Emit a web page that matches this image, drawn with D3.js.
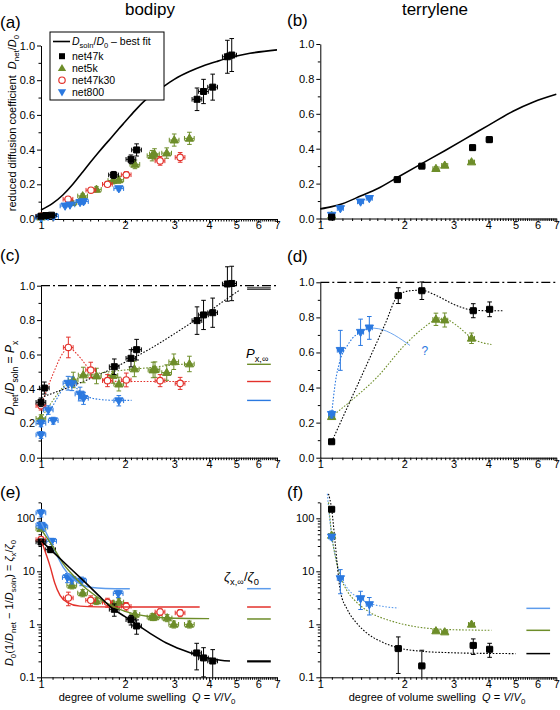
<!DOCTYPE html>
<html><head><meta charset="utf-8">
<script src="https://cdn.jsdelivr.net/npm/d3@7"></script>
<style>
body{margin:0;background:#fff}
text{font-family:"Liberation Sans",Arial,Helvetica,sans-serif;fill:#000}
</style>
</head><body>
<svg id="c" width="560" height="710"></svg>
<script>
// ================= DATA =================
const xTickVals = [1, 2, 3, 4, 5, 6, 7];
const linTickVals = [0, 0.2, 0.4, 0.6, 0.8, 1.0];
const logTickVals = [0.1, 1, 10, 100];
const titles = ["bodipy", "terrylene"];
const panelLabels = ["(a)", "(b)", "(c)", "(d)", "(e)", "(f)"];
const seriesNames = ["net47k", "net5k", "net47k30", "net800"];
const xRelErrBodipy = 0.04, xRelErrTerry = 0.025;

// ---- (a) bodipy: Dnet/D0 ----
const fitA_Q = [1.0, 1.1, 1.2, 1.3, 1.4, 1.5, 1.6, 1.7, 1.8, 1.9, 2.0, 2.2, 2.4, 2.7, 3.0, 3.4, 3.8, 4.3, 4.8, 5.6, 7.0];
const fitA_D = [0.052, 0.09, 0.14, 0.2, 0.265, 0.325, 0.38, 0.43, 0.475, 0.52, 0.56, 0.635, 0.695, 0.755, 0.805, 0.85, 0.882, 0.91, 0.932, 0.955, 0.975];
const a47k_Q = [1.0, 1.04, 1.09, 1.82, 2.1, 2.2, 3.62, 3.82, 4.12, 4.65, 4.82];
const a47k_D = [0.016, 0.02, 0.022, 0.254, 0.344, 0.398, 0.69, 0.735, 0.76, 0.935, 0.945];
const a47k_E = [0.005, 0.006, 0.006, 0.02, 0.025, 0.035, 0.065, 0.07, 0.075, 0.095, 0.095];
const a5k_Q = [1.0, 1.29, 1.41, 1.58, 1.81, 1.9, 2.17, 2.5, 2.55, 2.82, 3.0, 3.4];
const a5k_D = [0.011, 0.094, 0.133, 0.171, 0.222, 0.226, 0.315, 0.365, 0.375, 0.38, 0.455, 0.465];
const a5k_E = [0.005, 0.01, 0.012, 0.015, 0.02, 0.02, 0.025, 0.03, 0.03, 0.03, 0.035, 0.035];
const a30_Q = [1.0, 1.25, 1.51, 1.73, 2.02, 2.67, 3.15];
const a30_D = [0.015, 0.114, 0.166, 0.2, 0.255, 0.335, 0.355];
const a30_E = [0.004, 0.008, 0.01, 0.013, 0.018, 0.025, 0.028];
const a800_Q = [1.0, 1.0, 1.06, 1.11, 1.22, 1.27, 1.38, 1.42, 1.9];
const a800_D = [0.0065, 0.01, 0.016, 0.014, 0.075, 0.081, 0.096, 0.1, 0.175];
const a800_E = [0.004, 0.004, 0.005, 0.005, 0.008, 0.008, 0.01, 0.01, 0.012];

// ---- (b) terrylene: Dnet/D0 ----
const fitB_Q = [1.0, 1.1, 1.2, 1.4, 1.6, 1.9, 2.3, 2.8, 3.5, 4.0, 4.9, 5.8, 7.0];
const fitB_D = [0.055, 0.068, 0.085, 0.13, 0.17, 0.238, 0.313, 0.39, 0.48, 0.534, 0.615, 0.668, 0.712];
const b47k_Q = [1.098, 1.887, 2.31, 3.51, 4.03];
const b47k_D = [0.008, 0.223, 0.30, 0.406, 0.452];
const b47k_E = [0.004, 0.01, 0.012, 0.015, 0.017];
const b5k_Q = [1.098, 2.595, 2.79, 3.48];
const b5k_D = [0.018, 0.286, 0.305, 0.324];
const b5k_E = [0.005, 0.01, 0.01, 0.01];
const b800_Q = [1.098, 1.18, 1.394, 1.498];
const b800_D = [0.019, 0.057, 0.095, 0.115];
const b800_E = [0.005, 0.007, 0.008, 0.008];

// ---- (c) bodipy: Px = Dnet/Dsoln ----
const c47k_Q = [1.0, 1.028, 1.83, 2.1, 2.2, 3.62, 3.82, 4.12, 4.65, 4.82];
const c47k_P = [0.322, 0.405, 0.529, 0.578, 0.628, 0.797, 0.83, 0.843, 1.01, 1.013];
const c47k_E = [0.025, 0.035, 0.045, 0.05, 0.06, 0.08, 0.085, 0.085, 0.1, 0.1];
const c5k_Q = [1.0, 1.305, 1.417, 1.58, 1.81, 1.9, 2.16, 2.52, 2.56, 2.82, 2.99, 3.4];
const c5k_P = [0.229, 0.452, 0.481, 0.475, 0.478, 0.428, 0.516, 0.51, 0.512, 0.495, 0.558, 0.545];
const c5k_E = [0.02, 0.045, 0.045, 0.045, 0.045, 0.04, 0.045, 0.045, 0.045, 0.045, 0.045, 0.045];
const c30_Q = [1.0, 1.253, 1.507, 1.73, 2.02, 2.67, 3.15];
const c30_P = [0.302, 0.641, 0.51, 0.448, 0.452, 0.448, 0.432];
const c30_E = [0.025, 0.06, 0.045, 0.035, 0.04, 0.035, 0.035];
const c800_Q = [1.0, 1.0, 1.062, 1.107, 1.25, 1.29, 1.38, 1.42, 1.9];
const c800_P = [0.2, 0.132, 0.277, 0.215, 0.433, 0.43, 0.37, 0.345, 0.331];
const c800_E = [0.02, 0.02, 0.025, 0.02, 0.04, 0.04, 0.04, 0.035, 0.03];
const fitC47k_Q = [1.0, 1.5, 2.0, 2.5, 3.0, 3.5, 4.0, 4.5, 5.15];
const fitC47k_P = [0.35, 0.46, 0.555, 0.64, 0.72, 0.79, 0.85, 0.91, 0.975];
const fitC5k_Q = [1.0, 1.1, 1.2, 1.3, 1.4, 1.6, 2.0, 2.5, 3.0, 3.4];
const fitC5k_P = [0.229, 0.33, 0.41, 0.45, 0.47, 0.49, 0.51, 0.525, 0.54, 0.545];
const fitC30_Q = [1.0, 1.1, 1.2, 1.253, 1.35, 1.5, 1.65, 1.8, 2.0, 2.5, 3.4];
const fitC30_P = [0.302, 0.48, 0.61, 0.641, 0.6, 0.51, 0.46, 0.445, 0.443, 0.443, 0.443];
const fitC800_Q = [1.0, 1.1, 1.2, 1.27, 1.35, 1.45, 1.6, 1.8, 2.11];
const fitC800_P = [0.2, 0.3, 0.4, 0.43, 0.4, 0.36, 0.34, 0.334, 0.333];
const pInf_47k = [0.99, 0.98], pInf_5k = 0.543, pInf_30 = 0.443, pInf_800 = 0.333;

// ---- (d) terrylene: Px ----
const d47k_Q = [1.098, 1.902, 2.31, 3.53, 4.04];
const d47k_P = [0.091, 0.924, 0.952, 0.838, 0.846];
const d47k_E = [0.01, 0.045, 0.05, 0.04, 0.042];
const d5k_Q = [1.098, 2.595, 2.79, 3.48];
const d5k_P = [0.234, 0.789, 0.785, 0.681];
const d5k_E = [0.015, 0.035, 0.04, 0.03];
const d800_Q = [1.098, 1.18, 1.394, 1.498];
const d800_P = [0.247, 0.612, 0.715, 0.74];
const d800_E = [0.02, 0.114, 0.075, 0.065];
const fitD47k_Q = [1.098, 1.3, 1.5, 1.7, 1.9, 2.1, 2.3, 2.6, 3.0, 3.5, 4.0, 4.5];
const fitD47k_P = [0.09, 0.347, 0.565, 0.756, 0.925, 0.952, 0.955, 0.925, 0.875, 0.842, 0.838, 0.838];
const fitD5k_Q = [1.098, 1.3, 1.6, 2.0, 2.3, 2.6, 2.8, 3.1, 3.5, 4.1];
const fitD5k_P = [0.234, 0.33, 0.46, 0.64, 0.73, 0.785, 0.79, 0.75, 0.68, 0.645];
const fitD800_Q = [1.098, 1.13, 1.18, 1.25, 1.32, 1.394, 1.45, 1.498];
const fitD800_P = [0.247, 0.42, 0.56, 0.64, 0.69, 0.715, 0.73, 0.74];
const extD800_Q = [1.498, 1.62, 2.095];
const extD800_P = [0.74, 0.735, 0.64];
const qMark = {Q: 2.37, P: 0.61, text: "?"};

// ---- (e) bodipy: zeta ----
const e47k_Q = [1.0, 1.083, 1.83, 2.1, 2.2, 3.61, 3.82, 4.12];
const e47k_Z = [35.8, 25.6, 1.92, 1.22, 0.93, 0.288, 0.232, 0.203];
const e47k_E = [4, 3, 0.5, 0.25, 0.28, 0.15, 0.13, 0.13];
const e5k_Q = [1.0, 1.29, 1.41, 1.58, 1.81, 1.9, 2.17, 2.5, 2.55, 2.83, 2.99, 3.4];
const e5k_Z = [63.8, 5.45, 3.9, 2.75, 2.4, 2.64, 1.54, 1.375, 1.375, 1.32, 1.0, 1.0];
const e5k_E = [6, 0.8, 0.6, 0.4, 0.35, 0.4, 0.25, 0.2, 0.2, 0.2, 0.15, 0.15];
const e30_Q = [1.0, 1.253, 1.507, 1.73, 2.02, 2.67, 3.15];
const e30_Z = [39.6, 3.14, 2.84, 2.6, 2.18, 1.71, 1.64];
const e30_E = [4, 0.9, 0.6, 0.5, 0.4, 0.25, 0.25];
const e800_Q = [1.0, 1.0, 1.016, 1.092, 1.243, 1.29, 1.398, 1.891];
const e800_Z = [126, 73.8, 68, 36.8, 7.6, 6.96, 6.56, 3.79];
const e800_E = [20, 10, 10, 5, 1.5, 1.2, 1.2, 0.6];
const fitE47k_Q = [1.0, 1.08, 1.2, 1.4, 1.6, 1.8, 2.0, 2.2, 2.5, 2.8, 3.2, 3.6, 4.0, 4.4, 4.75];
const fitE47k_Z = [38, 26, 15.3, 7.1, 3.6, 2.0, 1.4, 1.0, 0.64, 0.45, 0.33, 0.265, 0.228, 0.21, 0.203];
const fitE5k_Q = [1.0, 1.1, 1.2, 1.3, 1.4, 1.5, 1.7, 2.0, 2.4, 3.0, 4.0];
const fitE5k_Z = [62, 30, 14, 8.5, 5.6, 4.1, 2.6, 1.75, 1.42, 1.3, 1.28];
const fitE30_Q = [1.0, 1.04, 1.08, 1.12, 1.17, 1.24, 1.38, 1.6, 2.0, 3.7];
const fitE30_Z = [40, 22, 12, 6, 3.5, 2.6, 2.2, 2.13, 2.12, 2.12];
const fitE800_Q = [1.0, 1.05, 1.1, 1.2, 1.3, 1.4, 1.5, 1.7, 2.08];
const fitE800_Z = [85, 50, 30, 12, 7.2, 5.6, 5.0, 4.75, 4.7];
const zInfE_47k = 0.2, zInfE_5k = 1.26, zInfE_30 = 2.12, zInfE_800 = 4.7;

// ---- (f) terrylene: zeta ----
const f47k_Q = [1.098, 1.902, 2.31, 3.53, 4.04];
const f47k_Z = [148, 0.348, 0.164, 0.40, 0.338];
const f47k_E = [10, 0.23, 0.16, 0.13, 0.1];
const f5k_Q = [1.098, 2.595, 2.79, 3.48];
const f5k_Z = [47.7, 0.75, 0.717, 1.0];
const f5k_E = [4, 0.04, 0.04, 0.05];
const f800_Q = [1.098, 1.18, 1.394, 1.498];
const f800_Z = [44.4, 7.27, 3.05, 2.35];
const f800_E = [5, 3.5, 1.15, 0.85];
const fitF47k_Q = [1.07, 1.098, 1.13, 1.18, 1.25, 1.35, 1.45, 1.64, 1.9, 2.3, 3.0, 4.0, 5.0];
const fitF47k_Z = [290, 150, 35, 4.2, 1.9, 1.05, 0.72, 0.48, 0.36, 0.31, 0.29, 0.282, 0.28];
const fitF5k_Q = [1.07, 1.098, 1.13, 1.18, 1.25, 1.35, 1.5, 1.8, 2.2, 2.8, 3.4, 4.1];
const fitF5k_Z = [200, 50, 20, 8, 4.2, 2.6, 1.7, 1.15, 0.9, 0.8, 0.78, 0.77];
const fitF800_Q = [1.06, 1.08, 1.1, 1.13, 1.18, 1.25, 1.35, 1.5, 1.7, 1.9];
const fitF800_Z = [290, 100, 45, 20, 8.5, 4.8, 3.3, 2.5, 2.15, 2.03];
const zInfF_47k = 0.28, zInfF_5k = 0.77, zInfF_800 = 2.0;

const legendQ = [5.47, 6.65];

// ================= DRAWING =================
const svg = d3.select("#c");
const COL = {k: "#000000", g: "#6d8d29", r: "#e3312b", b: "#2b79e0", bl: "#5d9cec"};
const FS = 11;

function rich(sel, parts, fs) {
  let shift = 0;
  parts.forEach(p => {
    const t = sel.append("tspan").text(p.t);
    const target = p.sub ? fs * 0.3 : 0;
    if (target !== shift) { t.attr("dy", target - shift); shift = target; }
    if (p.sub) t.attr("font-size", fs * 0.72);
    if (p.it) t.style("font-style", "italic");
  });
}

const xMinor = d3.range(11, 70).filter(v => v % 10 !== 0).map(v => v / 10);

function styleAxis(g) {
  g.selectAll("path.domain").attr("stroke", "#000").attr("stroke-width", 1);
  g.selectAll(".tick line").attr("stroke", "#000").attr("stroke-width", 1);
  g.selectAll(".tick text").attr("font-size", FS).attr("fill", "#000")
    .attr("font-family", '"Liberation Sans",Arial,sans-serif');
}

function makePanel(x0, x1, yTop, yBot, log) {
  const x = d3.scaleLog().domain([1, 7]).range([x0, x1]);
  const y = log ? d3.scaleLog().domain([0.1, 200]).range([yBot, yTop])
                : d3.scaleLinear().domain([0, 1]).range([yBot, yTop]);
  const gm = svg.append("g").attr("transform", `translate(0,${yBot})`)
    .call(d3.axisBottom(x).tickValues(xMinor).tickFormat("").tickSize(2.5).tickSizeOuter(0));
  gm.select("path.domain").remove(); styleAxis(gm);
  const gx = svg.append("g").attr("transform", `translate(0,${yBot})`)
    .call(d3.axisBottom(x).tickValues(xTickVals).tickFormat(d3.format("d")).tickSize(4).tickPadding(-1.5).tickSizeOuter(0));
  styleAxis(gx);
  let minorY;
  if (log) {
    minorY = [];
    [0.1, 1, 10, 100].forEach(dec => { for (let k = 2; k <= 9; k++) { const v = dec * k; if (v <= 200) minorY.push(v); } });
  } else minorY = [0.1, 0.3, 0.5, 0.7, 0.9];
  const gym = svg.append("g").attr("transform", `translate(${x0},0)`)
    .call(d3.axisLeft(y).tickValues(minorY).tickFormat("").tickSize(2.5).tickSizeOuter(0));
  gym.select("path.domain").remove(); styleAxis(gym);
  const gy = svg.append("g").attr("transform", `translate(${x0},0)`)
    .call(d3.axisLeft(y).tickValues(log ? logTickVals : linTickVals)
      .tickFormat(log ? (d => d < 1 ? "0.1" : d3.format("d")(d)) : d3.format(".1f"))
      .tickSize(4).tickPadding(2).tickSizeOuter(0));
  styleAxis(gy);
  return {x, y, ymin: log ? 0.1 : 0};
}

const SQ = d3.symbol().type(d3.symbolSquare).size(36)();
const TRI = d3.symbol().type(d3.symbolTriangle).size(30)();

function marker(g, type, cx, cy, color) {
  if (type === "sq") g.append("path").attr("d", SQ).attr("transform", `translate(${cx},${cy})`).attr("fill", color);
  else if (type === "tu") g.append("path").attr("d", TRI).attr("transform", `translate(${cx},${cy + 0.5})`).attr("fill", color);
  else if (type === "td") g.append("path").attr("d", TRI).attr("transform", `translate(${cx},${cy - 0.5}) rotate(180)`).attr("fill", color);
  else g.append("circle").attr("cx", cx).attr("cy", cy).attr("r", 3.2).attr("fill", "#fff").attr("stroke", color).attr("stroke-width", 1.2);
}

function series(p, Q, V, E, fx, color, type) {
  const g = svg.append("g").attr("stroke", color).attr("stroke-width", 1);
  const c = 2.3;
  Q.forEach((q, i) => {
    const cx = p.x(q), cy = p.y(V[i]);
    const lo = V[i] - E[i], hi = V[i] + E[i];
    const clipped = lo < p.ymin;
    const yl = p.y(clipped ? p.ymin : lo), yh = p.y(hi);
    g.append("line").attr("x1", cx).attr("x2", cx).attr("y1", yl).attr("y2", yh);
    g.append("line").attr("x1", cx - c).attr("x2", cx + c).attr("y1", yh).attr("y2", yh);
    if (!clipped) g.append("line").attr("x1", cx - c).attr("x2", cx + c).attr("y1", yl).attr("y2", yl);
    const xl = p.x(q * (1 - fx)), xh = p.x(q * (1 + fx));
    g.append("line").attr("x1", xl).attr("x2", xh).attr("y1", cy).attr("y2", cy);
    g.append("line").attr("x1", xl).attr("x2", xl).attr("y1", cy - c).attr("y2", cy + c);
    g.append("line").attr("x1", xh).attr("x2", xh).attr("y1", cy - c).attr("y2", cy + c);
    marker(g, type, cx, cy, color);
  });
}

function fit(p, Q, V, color, width, dash) {
  const line = d3.line().x(d => p.x(d[0])).y(d => p.y(d[1])).curve(d3.curveMonotoneX);
  const path = svg.append("path").datum(Q.map((q, i) => [q, V[i]])).attr("d", line)
    .attr("fill", "none").attr("stroke", color).attr("stroke-width", width);
  if (dash) path.attr("stroke-dasharray", dash);
}

function hmark(p, v, color, width) {
  svg.append("line").attr("x1", p.x(legendQ[0])).attr("x2", p.x(legendQ[1]))
    .attr("y1", p.y(v)).attr("y2", p.y(v)).attr("stroke", color).attr("stroke-width", width);
}

function dashDot(p) {
  svg.append("line").attr("x1", p.x(1)).attr("x2", p.x(7)).attr("y1", p.y(1)).attr("y2", p.y(1))
    .attr("stroke", "#000").attr("stroke-width", 1.2).attr("stroke-dasharray", "9,3,2,3");
}

const DOT = "1.6,1.6";

// ---- titles and labels ----
svg.append("text").attr("x", 150).attr("y", 15).attr("text-anchor", "middle").attr("font-size", 17).text(titles[0]);
svg.append("text").attr("x", 435).attr("y", 15).attr("text-anchor", "middle").attr("font-size", 17).text(titles[1]);
[[0, 28], [287, 26], [0, 261], [287, 262], [0, 498], [287, 498]].forEach((pos, i) => {
  svg.append("text").attr("x", pos[0]).attr("y", pos[1]).attr("font-size", 17).text(panelLabels[i]);
});

// ---- (a) ----
const pa = makePanel(41, 277, 45.5, 219, false);
series(pa, a5k_Q, a5k_D, a5k_E, xRelErrBodipy, COL.g, "tu");
series(pa, a30_Q, a30_D, a30_E, xRelErrBodipy, COL.r, "ci");
series(pa, a800_Q, a800_D, a800_E, xRelErrBodipy, COL.b, "td");
series(pa, a47k_Q, a47k_D, a47k_E, xRelErrBodipy, COL.k, "sq");
fit(pa, fitA_Q, fitA_D, "#000", 1.6);
// legend
const LFS = 10.5;
const lg = svg.append("g");
lg.append("rect").attr("x", 50).attr("y", 32).attr("width", 114).attr("height", 68)
  .attr("fill", "#fff").attr("stroke", "#000").attr("stroke-width", 1);
lg.append("line").attr("x1", 53).attr("x2", 70).attr("y1", 41.5).attr("y2", 41.5).attr("stroke", "#000").attr("stroke-width", 1.6);
rich(lg.append("text").attr("x", 72).attr("y", 45).attr("font-size", LFS).style("white-space", "pre"),
  [{t: "D", it: 1}, {t: "soln", sub: 1}, {t: "/"}, {t: "D", it: 1}, {t: "0", sub: 1}, {t: " – best fit"}], LFS);
[["sq", COL.k], ["tu", COL.g], ["ci", COL.r], ["td", COL.b]].forEach((m, i) => {
  const yy = 56.2 + i * 12;
  marker(lg, m[0], 62, yy, m[1]);
  lg.append("text").attr("x", 72).attr("y", yy + 3.8).attr("font-size", LFS).text(seriesNames[i]);
});
rich(svg.append("text").attr("transform", "translate(16,123) rotate(-90)").attr("text-anchor", "middle")
  .attr("font-size", FS).style("white-space", "pre"),
  [{t: "reduced diffusion coefficient  "}, {t: "D", it: 1}, {t: "net", sub: 1}, {t: "/"}, {t: "D", it: 1}, {t: "0", sub: 1}], FS);

// ---- (b) ----
const pb = makePanel(320.3, 556.3, 44, 218.5, false);
fit(pb, fitB_Q, fitB_D, "#000", 1.6);
series(pb, b5k_Q, b5k_D, b5k_E, xRelErrTerry, COL.g, "tu");
series(pb, b800_Q, b800_D, b800_E, xRelErrTerry, COL.b, "td");
series(pb, b47k_Q, b47k_D, b47k_E, xRelErrTerry, COL.k, "sq");

// ---- (c) ----
const pc = makePanel(41, 277, 285.7, 457.7, false);
dashDot(pc);
fit(pc, fitC5k_Q, fitC5k_P, COL.g, 1.1, DOT);
fit(pc, fitC30_Q, fitC30_P, COL.r, 1.1, DOT);
fit(pc, fitC800_Q, fitC800_P, COL.b, 1.1, DOT);
fit(pc, fitC47k_Q, fitC47k_P, "#000", 1.1, DOT);
series(pc, c5k_Q, c5k_P, c5k_E, xRelErrBodipy, COL.g, "tu");
series(pc, c30_Q, c30_P, c30_E, xRelErrBodipy, COL.r, "ci");
series(pc, c800_Q, c800_P, c800_E, xRelErrBodipy, COL.b, "td");
series(pc, c47k_Q, c47k_P, c47k_E, xRelErrBodipy, COL.k, "sq");
hmark(pc, pInf_47k[0], "#666", 1.2);
hmark(pc, pInf_47k[1], "#000", 1.2);
hmark(pc, pInf_5k, COL.g, 1.4);
hmark(pc, pInf_30, COL.r, 1.4);
hmark(pc, pInf_800, COL.b, 1.4);
rich(svg.append("text").attr("x", 246).attr("y", 358).attr("font-size", 13),
  [{t: "P", it: 1}, {t: "x,∞", sub: 1}], 13);
rich(svg.append("text").attr("transform", "translate(14,378) rotate(-90)").attr("text-anchor", "middle")
  .attr("font-size", 12).style("white-space", "pre"),
  [{t: "D", it: 1}, {t: "net", sub: 1}, {t: "/"}, {t: "D", it: 1}, {t: "soln", sub: 1}, {t: " = "}, {t: "P", it: 1}, {t: "x", sub: 1}], 12);

// ---- (d) ----
const pd = makePanel(320.3, 556.3, 282.3, 457.7, false);
dashDot(pd);
fit(pd, fitD5k_Q, fitD5k_P, COL.g, 1.1, DOT);
fit(pd, fitD800_Q, fitD800_P, COL.b, 1.1, DOT);
fit(pd, extD800_Q, extD800_P, COL.bl, 0.9);
fit(pd, fitD47k_Q, fitD47k_P, "#000", 1.1, DOT);
series(pd, d5k_Q, d5k_P, d5k_E, xRelErrTerry, COL.g, "tu");
series(pd, d800_Q, d800_P, d800_E, xRelErrTerry, COL.b, "td");
series(pd, d47k_Q, d47k_P, d47k_E, xRelErrTerry, COL.k, "sq");
svg.append("text").attr("x", pd.x(qMark.Q)).attr("y", pd.y(qMark.P) + 4).attr("text-anchor", "middle")
  .attr("font-size", 12).style("fill", COL.b).text(qMark.text);

// ---- (e) ----
const pe = makePanel(41, 277, 502.35, 677.3, true);
series(pe, e5k_Q, e5k_Z, e5k_E, xRelErrBodipy, COL.g, "tu");
series(pe, e30_Q, e30_Z, e30_E, xRelErrBodipy, COL.r, "ci");
series(pe, e800_Q, e800_Z, e800_E, xRelErrBodipy, COL.b, "td");
series(pe, e47k_Q, e47k_Z, e47k_E, xRelErrBodipy, COL.k, "sq");
fit(pe, fitE800_Q, fitE800_Z, COL.bl, 1.4);
fit(pe, fitE30_Q, fitE30_Z, COL.r, 1.4);
fit(pe, fitE5k_Q, fitE5k_Z, COL.g, 1.4);
fit(pe, fitE47k_Q, fitE47k_Z, "#000", 1.6);
hmark(pe, zInfE_800, COL.bl, 1.5);
hmark(pe, zInfE_30, COL.r, 1.5);
hmark(pe, zInfE_5k, COL.g, 1.5);
hmark(pe, zInfE_47k, "#000", 2.2);
rich(svg.append("text").attr("x", 224).attr("y", 581).attr("font-size", 13),
  [{t: "ζ", it: 1}, {t: "x,∞", sub: 1}, {t: "/"}, {t: "ζ", it: 1}, {t: "0", sub: 1}], 13);
rich(svg.append("text").attr("transform", "translate(13,603) rotate(-90)").attr("text-anchor", "middle")
  .attr("font-size", FS).style("white-space", "pre"),
  [{t: "D", it: 1}, {t: "0", sub: 1}, {t: "(1/"}, {t: "D", it: 1}, {t: "net", sub: 1}, {t: " − 1/"}, {t: "D", it: 1},
   {t: "soln", sub: 1}, {t: ") = "}, {t: "ζ", it: 1}, {t: "x", sub: 1}, {t: "/"}, {t: "ζ", it: 1}, {t: "0", sub: 1}], FS);

// ---- (f) ----
const pf = makePanel(320.3, 556.3, 502.35, 677.3, true);
fit(pf, fitF800_Q, fitF800_Z, COL.bl, 1.1, DOT);
fit(pf, fitF5k_Q, fitF5k_Z, COL.g, 1.1, DOT);
fit(pf, fitF47k_Q, fitF47k_Z, "#000", 1.1, DOT);
series(pf, f5k_Q, f5k_Z, f5k_E, xRelErrTerry, COL.g, "tu");
series(pf, f800_Q, f800_Z, f800_E, xRelErrTerry, COL.b, "td");
series(pf, f47k_Q, f47k_Z, f47k_E, xRelErrTerry, COL.k, "sq");
hmark(pf, zInfF_800, COL.bl, 1.5);
hmark(pf, zInfF_5k, COL.g, 1.5);
hmark(pf, zInfF_47k, "#000", 1.5);

// x titles
[147, 437].forEach(cx => {
  rich(svg.append("text").attr("x", cx).attr("y", 701).attr("text-anchor", "middle").attr("font-size", FS)
    .style("white-space", "pre"),
    [{t: "degree of volume swelling  "}, {t: "Q", it: 1}, {t: " = "}, {t: "V", it: 1}, {t: "/"}, {t: "V", it: 1}, {t: "0", sub: 1}], FS);
});
</script>
</body></html>
